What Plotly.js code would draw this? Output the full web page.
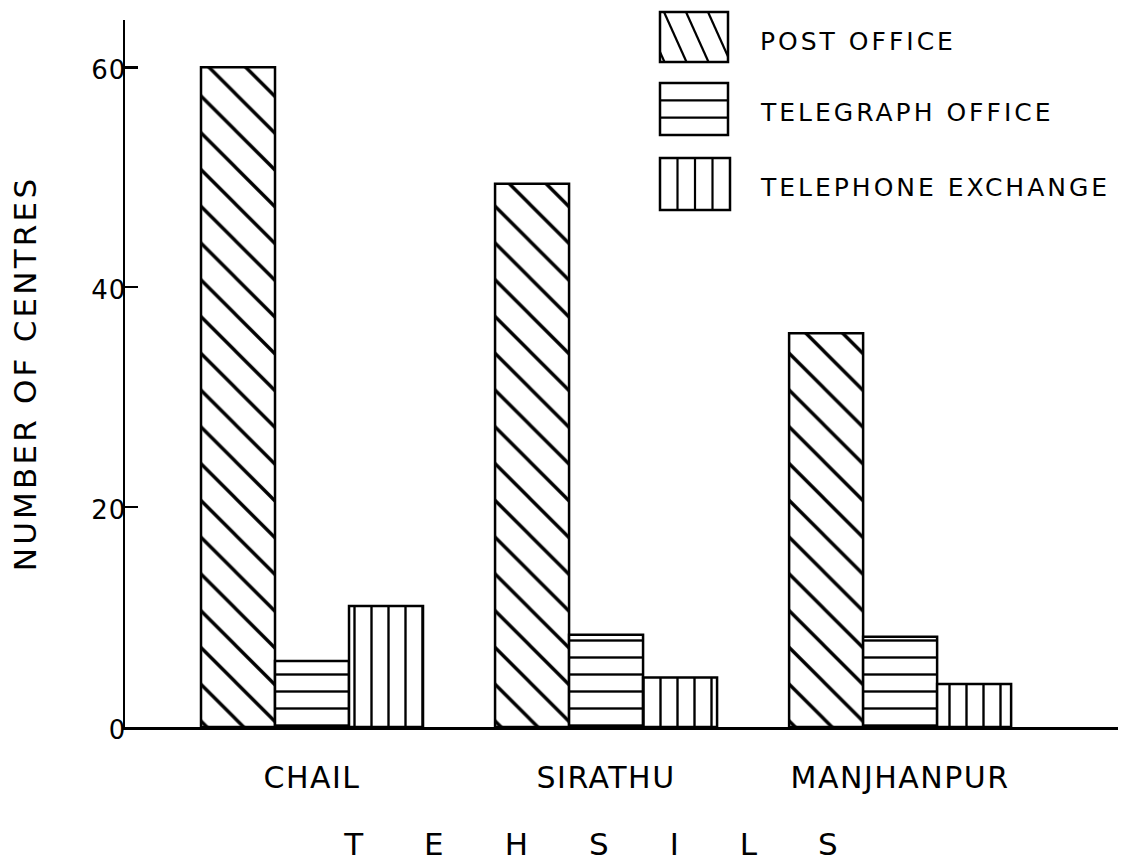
<!DOCTYPE html>
<html>
<head>
<meta charset="utf-8">
<script src="https://cdn.plot.ly/plotly-3.0.1.min.js"></script>
<style>
  html, body { margin: 0; padding: 0; background: #fff; }
  #chart { width: 1122px; height: 862px; }
  .xtick text { letter-spacing: 1.5px; }
  .ytick text { letter-spacing: 1px; }
  .ytitle { letter-spacing: 3.2px; }
  .xtitle { letter-spacing: 61px; }
  .annotation-text { letter-spacing: 3px; }
</style>
</head>
<body>
<div id="chart"></div>
<script>
// ---- data ----
var tehsils = ['CHAIL', 'SIRATHU', 'MANJHANPUR'];
var postOffice = [60, 49.4, 35.8];
var telegraphOffice = [6, 8.4, 8.2];
var telephoneExchange = [11, 4.5, 3.9];
var seriesNames = ['POST OFFICE', 'TELEGRAPH OFFICE', 'TELEPHONE EXCHANGE'];
var yTicks = [0, 20, 40, 60];
var xTitle = 'TEHSILS';
var yTitle = 'NUMBER OF CENTRES';

// ---- layout geometry (pixels) ----
var W = 1122, H = 862;
var M = {l: 125, r: 4, t: 20, b: 135};
var plotW = W - M.l - M.r, plotH = H - M.t - M.b;
function px(x) { return (x - M.l) / plotW; }
function py(y) { return (H - M.b - y) / plotH; }

var FONT = 'DejaVu Sans, Liberation Sans, sans-serif';
var lineStyle = {color: '#000', width: 2.5};

var patterns = [
  {shape: '\\', size: 26, solidity: 0.13, fgcolor: '#000', bgcolor: '#fff', fillmode: 'replace'},
  {shape: '-', size: 17, solidity: 0.14, fgcolor: '#000', bgcolor: '#fff', fillmode: 'replace'},
  {shape: '|', size: 17, solidity: 0.14, fgcolor: '#000', bgcolor: '#fff', fillmode: 'replace'}
];
var seriesValues = [postOffice, telegraphOffice, telephoneExchange];

var traces = seriesValues.map(function (vals, i) {
  return {
    type: 'bar',
    name: seriesNames[i],
    x: tehsils,
    y: vals,
    marker: {color: '#fff', pattern: patterns[i], line: lineStyle},
    showlegend: false,
    hoverinfo: 'x+y+name'
  };
});

// ---- custom legend (swatches as shapes, labels as annotations) ----
var shapes = [];
var annotations = [];
var sw = [
  {x0: 660, x1: 728, y0: 12, y1: 62, ty: 41},
  {x0: 660, x1: 728, y0: 83, y1: 135, ty: 112},
  {x0: 660, x1: 730, y0: 158, y1: 210, ty: 187}
];
function seg(xa, ya, xb, yb) {
  shapes.push({type: 'line', xref: 'paper', yref: 'paper',
    x0: px(xa), y0: py(ya), x1: px(xb), y1: py(yb),
    line: {color: '#000', width: 2.2}});
}
sw.forEach(function (b, i) {
  shapes.push({type: 'rect', xref: 'paper', yref: 'paper',
    x0: px(b.x0), x1: px(b.x1), y0: py(b.y1), y1: py(b.y0),
    line: {color: '#000', width: 2.5}, fillcolor: '#fff'});
  if (i === 0) {
    var k = 0.45, step = 22;
    for (var xs = b.x0 - 40; xs < b.x1; xs += step) {
      var ya = Math.max(b.y0, b.y0 + (b.x0 - xs) / k);
      var yb = Math.min(b.y1, b.y0 + (b.x1 - xs) / k);
      if (yb - ya > 2) seg(xs + k * (ya - b.y0), ya, xs + k * (yb - b.y0), yb);
    }
  } else if (i === 1) {
    var h = (b.y1 - b.y0) / 3;
    for (var j = 1; j < 3; j++) seg(b.x0, b.y0 + j * h, b.x1, b.y0 + j * h);
  } else {
    var wv = (b.x1 - b.x0) / 4;
    for (var j2 = 1; j2 < 4; j2++) seg(b.x0 + j2 * wv, b.y0, b.x0 + j2 * wv, b.y1);
  }
  annotations.push({xref: 'paper', yref: 'paper', x: px(758), y: py(b.ty),
    xanchor: 'left', yanchor: 'middle', showarrow: false,
    text: seriesNames[i], font: {family: FONT, size: 25, color: '#000'}});
});

var layout = {
  width: W, height: H,
  margin: M,
  paper_bgcolor: '#fff', plot_bgcolor: '#fff',
  font: {family: FONT, color: '#000'},
  barmode: 'group',
  bargap: 0.245,
  bargroupgap: 0,
  showlegend: false,
  xaxis: {
    type: 'category',
    range: [-0.636, 2.741],
    showline: true, linecolor: '#000', linewidth: 2.5,
    showgrid: false, zeroline: false,
    ticks: '',
    ticklabelstandoff: 22,
    tickfont: {family: FONT, size: 30, color: '#000'},
    title: {text: xTitle, font: {family: FONT, size: 31, color: '#000'}, standoff: 41},
    automargin: false
  },
  yaxis: {
    range: [0, 64.3],
    tickvals: yTicks,
    ticktext: yTicks.map(String),
    showline: true, linecolor: '#000', linewidth: 2.5,
    showgrid: false, zeroline: false,
    ticks: 'inside', ticklen: 13, tickwidth: 2.5, tickcolor: '#000',
    ticklabelstandoff: -9,
    ticklabelshift: 3,
    tickfont: {family: FONT, size: 26, color: '#000'},
    title: {text: '\u200B\u200B\u200B' + yTitle, font: {family: FONT, size: 31, color: '#000'}, standoff: 46},
    automargin: false
  },
  shapes: shapes,
  annotations: annotations
};

Plotly.newPlot('chart', traces, layout, {displayModeBar: false, staticPlot: true});
</script>
</body>
</html>
